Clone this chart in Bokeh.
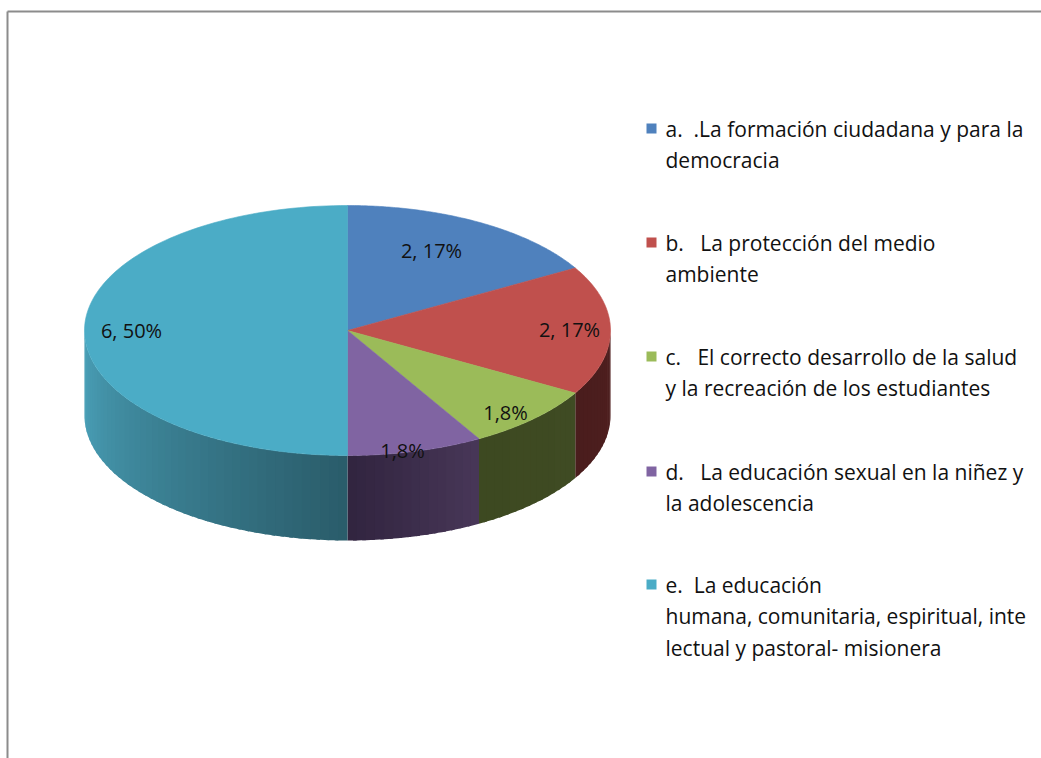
import numpy as np
from bokeh.plotting import figure
from bokeh.models import Range1d
from bokeh.core.properties import value
from bokeh.embed import file_html
from bokeh.resources import INLINE

# ---- data ----
NB = "\u00a0"
categories = [
    ["a." + NB + NB + ".La formación ciudadana y para la", "democracia"],
    ["b." + NB + NB + " La protección del medio", "ambiente"],
    ["c." + NB + NB + " El correcto desarrollo de la salud", "y la recreación de los estudiantes"],
    ["d." + NB + NB + " La educación sexual en la niñez y", "la adolescencia"],
    ["e." + NB + " La educación", "humana, comunitaria, espiritual, inte", "lectual y pastoral- misionera"],
]
values = [2, 2, 1, 1, 6]
data_labels = ["2, 17%", "2, 17%", "1,8%", "1,8%", "6, 50%"]
top_colors = ["#4F81BD", "#C0504D", "#9BBB59", "#8064A2", "#4BACC6"]
side_colors_light = ["#3A5F8C", "#4E1F1F", "#3F4B23", "#483758", "#4BA3BB"]
side_colors_dark = ["#2A4568", "#4A1D1D", "#3D4921", "#31243F", "#2A5C6A"]

W, H = 1041, 758
p = figure(width=W, height=H, output_backend="svg", toolbar_location=None,
           x_range=Range1d(0, W), y_range=Range1d(H, 0),
           min_border=0, outline_line_color=None, background_fill_color="white",
           border_fill_color="white")
p.axis.visible = False
p.grid.visible = False

# frame border (top and left)
p.segment(x0=[7, 7], y0=[11, 11], x1=[1041, 7], y1=[11, 760], line_color="#8C8C8C", line_width=2)

cx, cy, rx, ry, depth = 347, 330, 263, 125, 85
FONT = "Open Sans"

def pt(theta_deg):
    t = np.radians(theta_deg)
    return cx + rx * np.sin(t), cy - ry * np.cos(t)

def hex2rgb(h):
    return np.array([int(h[i:i + 2], 16) for i in (1, 3, 5)], dtype=float)

def mix(a, b, f):
    c = hex2rgb(a) * (1 - f) + hex2rgb(b) * f
    return "#%02x%02x%02x" % tuple(int(round(v)) for v in c)

total = sum(values)
bounds = np.concatenate([[0], np.cumsum(values)]) / total * 360.0

# sides (front half: 90..270 deg clockwise from top)
for i in range(len(values)):
    a0, a1 = max(bounds[i], 90), min(bounds[i + 1], 270)
    if a1 <= a0:
        continue
    n = max(2, int((a1 - a0) / 2))
    edges = np.linspace(a0, a1, n + 1)
    for k in range(n):
        e1 = min(edges[k + 1] + 0.8, a1)
        s = np.linspace(edges[k], e1, 4)
        xs, ys = pt(s)
        px = list(xs) + list(xs[::-1])
        py = list(ys) + list((ys + depth)[::-1])
        mid = (edges[k] + edges[k + 1]) / 2
        if i == 4:
            f = (270 - mid) / 90.0  # dark toward bottom center
        else:
            f = (mid - a0) / max(a1 - a0, 1e-6)
        col = mix(side_colors_light[i], side_colors_dark[i], f)
        p.patch(px, py, fill_color=col, line_color=None)

# top wedges
for i in range(len(values)):
    s = np.linspace(bounds[i], bounds[i + 1], 120)
    xs, ys = pt(s)
    px = [cx] + list(xs)
    py = [cy] + list(ys)
    p.patch(px, py, fill_color=top_colors[i], line_color=top_colors[i], line_width=0.6)

# data labels
lab_x = [431, 569, 505, 402, 131]
lab_y = [250, 329, 412, 450, 330]
p.text(x=lab_x, y=lab_y, text=data_labels, text_font=value(FONT), text_font_size="20px",
       text_align="center", text_baseline="middle", text_color="#111111")

# legend
leg_top = [128, 242, 356, 471, 584]
line_h = 31.5
sq_x, sq_y, txt_x, txt_y, txt = [], [], [], [], []
for i, lines in enumerate(categories):
    sq_x.append(651)
    sq_y.append(leg_top[i])
    for j, ln in enumerate(lines):
        txt_x.append(665)
        txt_y.append(leg_top[i] + j * line_h)
        txt.append(ln)
p.rect(x=sq_x, y=sq_y, width=10, height=10, fill_color=top_colors, line_color=None)
p.text(x=txt_x, y=txt_y, text=txt, text_font=value(FONT), text_font_size="21px",
       text_align="left", text_baseline="middle", text_color="#111111")

open("out.html", "w").write(file_html(p, INLINE))
